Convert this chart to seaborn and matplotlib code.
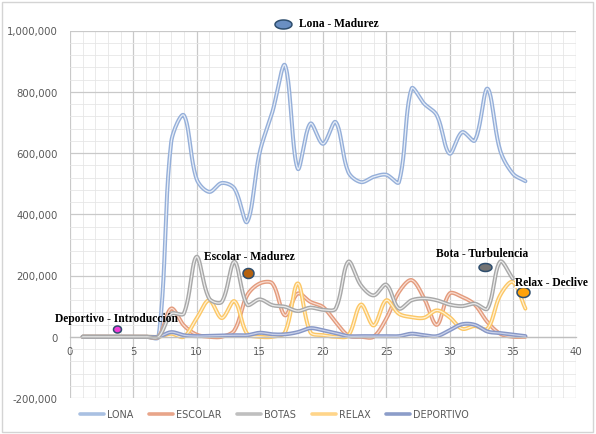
import numpy as np
import pandas as pd
import matplotlib.pyplot as plt
import seaborn as sns
from matplotlib.lines import Line2D
from matplotlib.patches import Rectangle
from matplotlib.path import Path
from matplotlib.ticker import FuncFormatter, MultipleLocator

# data (x = month index 1..36)
meses = list(range(1, 37))
lona = [0, 0, 0, 0, 0, 0, 0, 636000, 723000, 516000, 473000, 502000, 484000, 375000,
        603000, 734000, 886000, 549000, 696000, 630000, 701000, 538000, 505000, 522000,
        529000, 505000, 810000, 761000, 723000, 598000, 668000, 641000, 810000, 609000,
        533000, 508000]
escolar = [0, 0, 0, 0, 0, 0, 0, 92000, 37000, 7000, 0, 0, 21000, 135000,
           174000, 174000, 70000, 141000, 114000, 97000, 48000, 4000, 0, 0,
           59000, 146000, 185000, 125000, 39000, 141000, 130000, 105000, 48000, 10000,
           0, 0]
botas = [0, 0, 0, 0, 0, 0, 0, 75000, 76000, 261000, 125000, 114000, 245000, 105000,
         122000, 103000, 98000, 84000, 95000, 88000, 92000, 245000, 168000, 135000,
         170000, 92000, 119000, 125000, 119000, 105000, 100000, 108000, 92000, 245000,
         190000]
relax = [0, 0, 0, 0, 0, 0, 0, 10000, 0, 59000, 119000, 61000, 116000, 10000,
         0, 0, 15000, 174000, 15000, 5000, 0, 4000, 105000, 37000,
         119000, 75000, 64000, 62000, 86000, 64000, 26000, 35000, 26000, 135000,
         179000, 92000]
deportivo = [0, 0, 0, 0, 0, 0, 0, 15000, 5000, 2000, 3000, 4000, 5000, 5000,
             13000, 8000, 8000, 15000, 28000, 21000, 12000, 2000, 2000, 2000,
             2000, 2000, 10000, 5000, 2000, 21000, 41000, 39000, 17000, 12000,
             7000, 2000]

series_names = ['LONA', 'ESCOLAR', 'BOTAS', 'RELAX', 'DEPORTIVO']
series_values = [lona, escolar, botas, relax, deportivo]
outer_colors = ['#95afd9', '#e39b7d', '#a8a8a8', '#fcc766', '#8797c6']
inner_colors = ['#e6edf7', '#f9ddd1', '#ebebeb', '#fff1d4', '#c9d1ea']
legend_colors = ['#a9c0e2', '#e8a58a', '#bfbfbf', '#ffd58a', '#8c9dc9']
draw_order = ['LONA', 'ESCOLAR', 'RELAX', 'DEPORTIVO', 'BOTAS']

# annotations: label, label position, marker position, marker size (px), fill colour
etiquetas = ['Lona - Madurez', 'Escolar - Madurez', 'Deportivo - Introducción',
             'Bota - Turbulencia', 'Relax - Declive']
etiqueta_x = [18.1, 10.6, -1.2, 28.9, 35.2]
etiqueta_y = [1023000, 265000, 62000, 274000, 180000]
punto_x = [16.8, 14.1, 3.7, 32.8, 35.8]
punto_y = [1021000, 208000, 26000, 227000, 146000]
punto_w = [17, 11, 8, 13, 13]
punto_h = [9, 10, 7, 8, 10]
punto_color = ['#6a8fc2', '#b5620f', '#f03cd8', '#737373', '#ffa20a']

X_PX = 506 / 40          # pixels per x unit
Y_PX = 367.5 / 1200000   # pixels per y unit


def smooth_curve(xs, ys, steps=24):
    # Excel-like smoothed line: Bezier with chord-length scaled tangents
    p = np.column_stack([xs, ys]).astype(float)
    p = np.vstack([p[0], p, p[-1]])
    scale = np.array([X_PX, Y_PX])
    dist = lambda a, b: np.hypot(*((b - a) * scale)) + 1e-9
    out = []
    t = np.linspace(0, 1, steps)[:, None]
    for i in range(1, len(p) - 2):
        p0, p1, p2, p3 = p[i - 1], p[i], p[i + 1], p[i + 2]
        d01, d12, d23 = dist(p0, p1), dist(p1, p2), dist(p2, p3)
        c1 = p1 + (p2 - p0) * d12 / (d01 + d12) / 3
        c2 = p2 - (p3 - p1) * d12 / (d12 + d23) / 3
        seg = ((1 - t) ** 3) * p1 + 3 * ((1 - t) ** 2) * t * c1 + 3 * (1 - t) * t ** 2 * c2 + t ** 3 * p2
        out.append(seg if i == 1 else seg[1:])
    out = np.vstack(out)
    return out[:, 0], out[:, 1]


sns.set_theme(style="white")
plt.rcParams['font.family'] = ['DejaVu Sans']

fig = plt.figure(figsize=(5.96, 4.35), dpi=100)
ax = fig.add_axes([70 / 596, 1 - 399 / 435, 506 / 596, 367.5 / 435])

for name in draw_order:
    k = series_names.index(name)
    vals = series_values[k]
    sx, sy = smooth_curve(meses[:len(vals)], vals)
    df = pd.DataFrame({'x': sx, 'y': sy})
    sns.lineplot(data=df, x='x', y='y', ax=ax, color=outer_colors[k], lw=2.9, sort=False,
                 estimator=None, solid_capstyle='round')
    sns.lineplot(data=df, x='x', y='y', ax=ax, color=inner_colors[k], lw=0.9, sort=False,
                 estimator=None, solid_capstyle='round')

ax.set_xlim(0, 40)
ax.set_ylim(-200000, 1000000)
ax.xaxis.set_major_locator(MultipleLocator(5))
ax.xaxis.set_minor_locator(MultipleLocator(1))
ax.yaxis.set_major_locator(MultipleLocator(200000))
ax.yaxis.set_minor_locator(MultipleLocator(40000))
ax.yaxis.set_major_formatter(FuncFormatter(lambda v, _: f'{int(v):,}'))
ax.grid(which='major', color='#c9c9c9', lw=0.9)
ax.grid(which='minor', color='#e6e6e6', lw=0.6)
ax.set_axisbelow(True)
ax.set_xlabel('')
ax.set_ylabel('')

for s in ['top', 'right', 'left']:
    ax.spines[s].set_visible(False)
ax.spines['bottom'].set_position(('data', 0))
ax.spines['bottom'].set_color('#bfbfbf')
ax.spines['bottom'].set_linewidth(0.9)
ax.tick_params(axis='both', which='both', length=0, labelsize=7.3, labelcolor='#595959')
ax.tick_params(axis='x', pad=6.5)
ax.tick_params(axis='y', pad=9)

# annotation markers and labels
for lab, tx, ty, px, py, w, h, c in zip(etiquetas, etiqueta_x, etiqueta_y, punto_x,
                                        punto_y, punto_w, punto_h, punto_color):
    ang = np.linspace(0, 2 * np.pi, 60)
    marker = Path(np.column_stack([np.cos(ang) * w / max(w, h), np.sin(ang) * h / max(w, h)]))
    ax.scatter([px], [py], marker=marker, s=(max(w, h) * 0.72) ** 2, color=c,
               edgecolor='#2e4e6e', linewidth=1.1, zorder=6, clip_on=False)
    kw = {}
    if lab.startswith('Relax'):
        kw['bbox'] = dict(facecolor='white', edgecolor='none', pad=0.5)
    ax.text(tx, ty, lab, family=['Liberation Serif'], fontweight='bold', fontsize=8.3,
            ha='left', va='center', color='black', zorder=7, clip_on=False, **kw)

handles = [Line2D([0], [0], color=c, lw=2.6) for c in legend_colors]
fig.legend(handles, series_names, loc='center', bbox_to_anchor=(274.5 / 596, 1 - 415 / 435),
           ncol=5, frameon=False, fontsize=6.9, labelcolor='#595959', handlelength=2.5,
           handletextpad=0.35, columnspacing=1.6)

fig.patches.append(Rectangle((2 / 596, 2 / 435), 591 / 596, 430 / 435, transform=fig.transFigure,
                             fill=False, edgecolor='#d4d4d4', lw=1))

fig.savefig('out.png', dpi=100, facecolor='white')
